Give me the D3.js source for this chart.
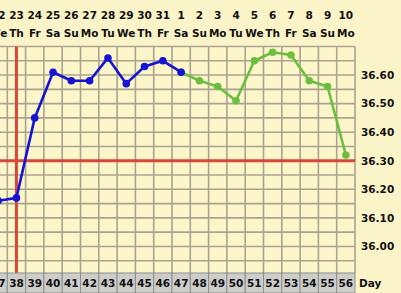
<!DOCTYPE html>
<html>
<head>
<meta charset="utf-8">
<script src="https://cdn.jsdelivr.net/npm/d3@7"></script>
<style>
  html, body { margin: 0; padding: 0; background: #fbf4c8; }
  svg { display: block; }
  text { font-family: "DejaVu Sans", Verdana, sans-serif; font-weight: bold; fill: #111; }
</style>
</head>
<body>
<div id="chart"></div>
<script>
// cycle days shown in the window
const days = [37, 38, 39, 40, 41, 42, 43, 44, 45, 46, 47, 48, 49, 50, 51, 52, 53, 54, 55, 56];
const dates = ['22', '23', '24', '25', '26', '27', '28', '29', '30', '31', '1', '2', '3', '4', '5', '6', '7', '8', '9', '10'];
const weekdays = ['We', 'Th', 'Fr', 'Sa', 'Su', 'Mo', 'Tu', 'We', 'Th', 'Fr', 'Sa', 'Su', 'Mo', 'Tu', 'We', 'Th', 'Fr', 'Sa', 'Su', 'Mo'];

// temperatures, first part (blue) and second part (green)
const blueDays = [37, 38, 39, 40, 41, 42, 43, 44, 45, 46, 47];
const blueTemps = [36.16, 36.17, 36.45, 36.61, 36.58, 36.58, 36.66, 36.57, 36.63, 36.65, 36.61];
const greenDays = [47, 48, 49, 50, 51, 52, 53, 54, 55, 56];
const greenTemps = [36.61, 36.58, 36.56, 36.51, 36.65, 36.68, 36.67, 36.58, 36.56, 36.32];

const tempLabels = ['36.00', '36.10', '36.20', '36.30', '36.40', '36.50', '36.60'];
const coverline = 36.30;
const ovulationDay = 38;

const width = 401, height = 293;
const plotTop = 46.5, plotBottom = 273, plotRight = 355;

const svg = d3.select('#chart').append('svg')
  .attr('width', width)
  .attr('height', height);

const x = d3.scaleLinear().domain([36.5, 56.5]).range([-11, plotRight]);
const y = d3.scaleLinear().domain([35.9, 36.7]).range([275, plotTop]);

// plot background
svg.append('rect')
  .attr('x', 0).attr('y', plotTop)
  .attr('width', plotRight).attr('height', plotBottom - plotTop)
  .attr('fill', '#fdf6cb');

// grid
const gridColor = '#aaa48f';
const hLines = d3.range(35.90, 36.701, 0.05);
svg.append('g').selectAll('line')
  .data(hLines)
  .enter().append('line')
  .attr('x1', 0).attr('x2', plotRight)
  .attr('y1', d => y(d)).attr('y2', d => y(d))
  .attr('stroke', gridColor)
  .attr('stroke-width', 1.6);

svg.append('g').selectAll('line')
  .data(days)
  .enter().append('line')
  .attr('x1', d => x(d + 0.5)).attr('x2', d => x(d + 0.5))
  .attr('y1', plotTop).attr('y2', plotBottom)
  .attr('stroke', gridColor)
  .attr('stroke-width', 1.6);

// coverline + ovulation line
const red = '#d8473a';
svg.append('line')
  .attr('x1', 0).attr('x2', plotRight)
  .attr('y1', y(coverline)).attr('y2', y(coverline))
  .attr('stroke', red).attr('stroke-width', 3);

svg.append('line')
  .attr('x1', x(ovulationDay)).attr('x2', x(ovulationDay))
  .attr('y1', plotTop).attr('y2', plotBottom)
  .attr('stroke', red).attr('stroke-width', 3);

// temperature lines
const line = d3.line().x(d => x(d[0])).y(d => y(d[1]));

function drawSeries(ds, ts, color) {
  const pts = ds.map((d, i) => [d, ts[i]]);
  const g = svg.append('g');
  g.append('path')
    .attr('d', line(pts))
    .attr('fill', 'none')
    .attr('stroke', color)
    .attr('stroke-width', 2.6)
    .attr('stroke-linejoin', 'round');
  g.selectAll('circle')
    .data(pts)
    .enter().append('circle')
    .attr('cx', d => x(d[0]))
    .attr('cy', d => y(d[1]))
    .attr('r', 3.8)
    .attr('fill', color);
}

drawSeries(greenDays, greenTemps, '#6abf3e');
drawSeries(blueDays, blueTemps, '#1414d2');

// header rows
svg.append('g').selectAll('text')
  .data(days)
  .enter().append('text')
  .attr('x', d => x(d))
  .attr('y', 19)
  .attr('text-anchor', 'middle')
  .style('font-size', '10.5px')
  .text((d, i) => dates[i]);

svg.append('g').selectAll('text')
  .data(days)
  .enter().append('text')
  .attr('x', d => x(d))
  .attr('y', 37)
  .attr('text-anchor', 'middle')
  .style('font-size', '10.5px')
  .text((d, i) => weekdays[i]);

// temperature labels on the right
svg.append('g').selectAll('text')
  .data(tempLabels)
  .enter().append('text')
  .attr('x', 361)
  .attr('y', d => y(+d))
  .attr('dy', '0.36em')
  .style('font-size', '10.5px')
  .text(d => d);

// cycle day row
const cells = svg.append('g').selectAll('g')
  .data(days)
  .enter().append('g');

cells.append('rect')
  .attr('x', d => x(d - 0.5))
  .attr('y', plotBottom)
  .attr('width', d => x(d + 0.5) - x(d - 0.5))
  .attr('height', height - plotBottom)
  .attr('fill', '#cdcdcb')
  .attr('stroke', '#8e8e8a')
  .attr('stroke-width', 1);

cells.append('text')
  .attr('x', d => x(d))
  .attr('y', 287)
  .attr('text-anchor', 'middle')
  .style('font-size', '10.5px')
  .text(d => d);

svg.append('text')
  .attr('x', 359)
  .attr('y', 287)
  .style('font-size', '10.5px')
  .text('Day');
</script>
</body>
</html>
